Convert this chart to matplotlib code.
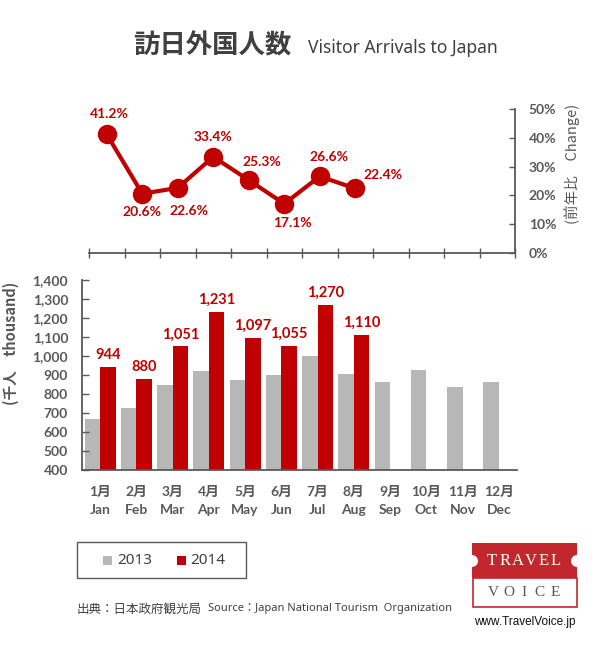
import matplotlib
matplotlib.use('Agg')
import matplotlib.pyplot as plt
from matplotlib.patches import Rectangle, Ellipse
from matplotlib.ticker import FuncFormatter, MultipleLocator, FixedLocator
from matplotlib.transforms import blended_transform_factory
import numpy as np

# ---------------- data ----------------
months_jp = ['1月', '2月', '3月', '4月', '5月', '6月', '7月', '8月', '9月', '10月', '11月', '12月']
months_en = ['Jan', 'Feb', 'Mar', 'Apr', 'May', 'Jun', 'Jul', 'Aug', 'Sep', 'Oct', 'Nov', 'Dec']
arrivals_2013 = [670, 726, 849, 922, 874, 900, 1000, 905, 863, 926, 837, 863]
arrivals_2014 = [944, 880, 1051, 1231, 1097, 1055, 1270, 1110]
change_pct = [41.2, 20.6, 22.6, 33.4, 25.3, 17.1, 26.6, 22.4]
series_names = ['2013', '2014']

# label offsets (pixels) for the change labels
change_label_offsets = [(3, 20), (0, -18), (11, -23), (0, 20), (13, 18), (8, -19), (9, 19), (28, 13)]

# ---------------- style ----------------
W, H = 600, 650
GRAY = '#B7B7B7'
RED = '#C00000'
TXT = '#595959'
DARK = '#404040'
AXC = '#595959'
NUM = ['Lato', 'DejaVu Sans']
JP = ['Noto Sans CJK JP', 'DejaVu Sans']
MIX = ['Lato', 'Noto Sans CJK JP']
SANS = ['Noto Sans', 'Noto Sans CJK JP']

fig = plt.figure(figsize=(W / 100, H / 100), dpi=100)


def fx(x):
    return x / W


def fy(y):
    return 1 - y / H


# ---------------- top chart: change ----------------
ax1 = fig.add_axes([fx(89), fy(253), (515 - 89) / W, (253 - 109) / H])
x_chg = np.arange(len(change_pct))
ax1.plot(x_chg, change_pct, color=RED, lw=3, marker='o', ms=13,
         mfc=RED, mec=RED, clip_on=False, zorder=3)
ax1.set_xlim(-0.5, 11.5)
ax1.set_ylim(0, 50)
for s in ['left', 'top']:
    ax1.spines[s].set_visible(False)
for s in ['right', 'bottom']:
    ax1.spines[s].set_color(AXC)
    ax1.spines[s].set_linewidth(1.3)
ax1.yaxis.tick_right()
ax1.yaxis.set_major_locator(MultipleLocator(10))
ax1.yaxis.set_major_formatter(FuncFormatter(lambda v, p: f'{v:.0f}%'))
ax1.tick_params(axis='y', direction='in', length=4, width=1, color=AXC,
                labelcolor=TXT, labelsize=10, pad=10)
for lab in ax1.get_yticklabels():
    lab.set_family(NUM)
    lab.set_fontweight('bold')
ax1.xaxis.set_major_locator(FixedLocator(np.arange(-0.5, 12, 1)))
ax1.tick_params(axis='x', direction='inout', length=7, width=1, color=AXC,
                labelbottom=False)
for xi, v, (dx, dy) in zip(x_chg, change_pct, change_label_offsets):
    ax1.annotate(f'{v:.1f}%', (xi, v), xytext=(dx, dy), textcoords='offset pixels',
                 ha='center', va='center', color=RED, fontsize=10,
                 fontweight='bold', family=NUM, annotation_clip=False)

# ---------------- bottom chart: arrivals ----------------
ax2 = fig.add_axes([fx(82), fy(470), (517 - 82) / W, (470 - 280) / H])
x13 = np.arange(len(arrivals_2013))
x14 = np.arange(len(arrivals_2014))
bw = 0.43
ax2.bar(x13 - bw / 2, arrivals_2013, width=bw, color=GRAY, label=series_names[0])
ax2.bar(x14 + bw / 2, arrivals_2014, width=bw, color=RED, label=series_names[1])
for xi, v in zip(x14, arrivals_2014):
    ax2.annotate(f'{v:,}', (xi + bw / 2, v), xytext=(0, 5), textcoords='offset pixels',
                 ha='center', va='bottom', color=RED, fontsize=10.5,
                 fontweight='bold', family=NUM)
ax2.set_xlim(-0.5, 11.5)
ax2.set_ylim(400, 1400)
for s in ['top', 'right']:
    ax2.spines[s].set_visible(False)
for s in ['left', 'bottom']:
    ax2.spines[s].set_color(AXC)
    ax2.spines[s].set_linewidth(1.3)
ax2.yaxis.set_major_locator(MultipleLocator(100))
ax2.yaxis.set_major_formatter(FuncFormatter(lambda v, p: f'{v:,.0f}'))
ax2.tick_params(axis='y', direction='in', length=5, width=1, color=AXC,
                labelcolor=TXT, labelsize=10, pad=10)
for lab in ax2.get_yticklabels():
    lab.set_family(NUM)
    lab.set_fontweight('bold')
ax2.set_xticks([])
tr = blended_transform_factory(ax2.transData, ax2.transAxes)
for xi, jp, en in zip(x13, months_jp, months_en):
    ax2.text(xi, (470 - 492) / 190, jp, transform=tr, ha='center', va='center',
             fontsize=10, fontweight='bold', color=TXT, family=MIX)
    ax2.text(xi, (470 - 510) / 190, en, transform=tr, ha='center', va='center',
             fontsize=10, fontweight='bold', color=TXT, family=NUM)

# axis titles
fig.text(fx(11), fy(343), '(千人　thousand)', rotation=90, ha='center', va='center',
         fontsize=10.5, fontweight='bold', color=TXT, family=JP)
fig.text(fx(572), fy(164), '(前年比　Change)', rotation=90, ha='center', va='center',
         fontsize=10.5, color=TXT, family=JP)

# ---------------- title ----------------
fig.text(fx(133), fy(53), '訪日外国人数', ha='left', va='baseline', fontsize=19,
         fontweight='bold', color=DARK, family=JP)
fig.text(fx(308), fy(53), 'Visitor Arrivals to Japan', ha='left', va='baseline',
         fontsize=12.6, color=DARK, family=SANS)

# ---------------- legend ----------------
fig.add_artist(Rectangle((fx(77), fy(578)), (246 - 77) / W, (578 - 542) / H,
                         transform=fig.transFigure, fill=False, ec=AXC, lw=1))
for (x0, x1, tx), col, name in zip([(103, 112, 117), (177, 186, 190)], [GRAY, RED], series_names):
    fig.add_artist(Rectangle((fx(x0), fy(565)), (x1 - x0) / W, 9 / H,
                             transform=fig.transFigure, color=col, lw=0))
    fig.text(fx(tx), fy(561), name, ha='left', va='center', fontsize=11,
             color=DARK, family=SANS)

# ---------------- source ----------------
fig.text(fx(77), fy(609), '出典：日本政府観光局', ha='left', va='center', fontsize=9,
         color=DARK, family=JP)
fig.text(fx(208), fy(609), 'Source：Japan National Tourism  Organization', ha='left',
         va='center', fontsize=8, color=DARK, family=SANS)

# ---------------- logo ----------------
LRED = '#C1272D'
fig.add_artist(Rectangle((fx(472), fy(578)), (577 - 472) / W, (578 - 543) / H,
                         transform=fig.transFigure, color=LRED, lw=0))
fig.add_artist(Rectangle((fx(472.5), fy(607)), (576.5 - 472.5) / W, (607 - 578) / H,
                         transform=fig.transFigure, fill=False, ec=LRED, lw=1.2))
for cx in (472, 577):
    fig.add_artist(Ellipse((fx(cx), fy(561)), 12 / W, 12 / H,
                           transform=fig.transFigure, color='white', lw=0))
for i, ch in enumerate('TRAVEL'):
    fig.text(fx(492 + i * 12.8), fy(561), ch, ha='center', va='center', fontsize=12,
             color='white', family=['Liberation Serif'])
for i, ch in enumerate('VOICE'):
    fig.text(fx(493 + i * 15.5), fy(593), ch, ha='center', va='center', fontsize=11,
             color='#555555', family=['Liberation Serif'])
fig.text(fx(525), fy(622), 'www.TravelVoice.jp', ha='center', va='center', fontsize=8.5,
         color='#111111', family=['Liberation Sans'])

fig.savefig('out.png', dpi=100, facecolor='white')
